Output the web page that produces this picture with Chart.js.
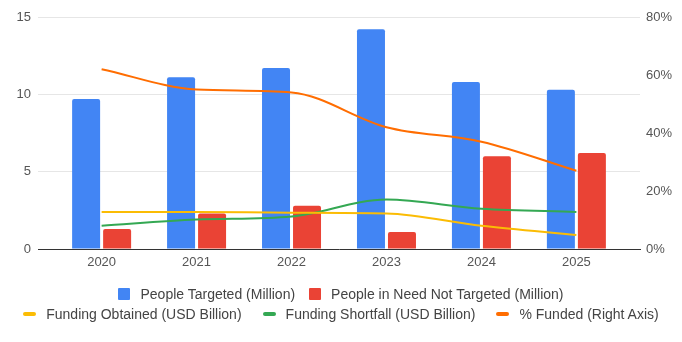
<!DOCTYPE html>
<html>
<head>
<meta charset="utf-8">
<script src="https://cdn.jsdelivr.net/npm/chart.js@4.4.1/dist/chart.umd.min.js"></script>
<style>
  html, body { margin:0; padding:0; background:#fff; }
  #wrap { position:relative; width:682px; height:342px; }
  #legend { position:absolute; left:0; top:284px; width:682px; font:14px 'Liberation Sans', Arial, sans-serif; color:#444; }
  .lg-row { display:flex; justify-content:center; height:20px; line-height:20px; }
  .lg-item { display:flex; align-items:center; white-space:nowrap; }
  .lg-mark { margin-right:10px; flex:none; }
</style>
</head>
<body>
<div id="wrap">
  <canvas id="chart" width="682" height="342"></canvas>
  <div id="legend"></div>
</div>
<script>
/* Humanitarian response: people targeted vs not targeted, funding and % funded */
const years = [2020, 2021, 2022, 2023, 2024, 2025];
const peopleTargeted    = [9.7, 11.1, 11.7, 14.2, 10.8, 10.3];   // million
const peopleNotTargeted = [1.3, 2.3, 2.8, 1.1, 6.0, 6.2];        // million
const fundingObtained   = [2.4, 2.4, 2.35, 2.3, 1.5, 0.9];       // USD billion
const fundingShortfall  = [1.5, 1.9, 2.1, 3.2, 2.6, 2.4];        // USD billion
const pctFunded         = [62, 55, 54, 42, 37, 27];              // %
const leftTicks  = [0, 5, 10, 15];
const rightTicks = [0, 20, 40, 60, 80];

const FONT = "'Liberation Sans', Arial, sans-serif";
const pts = (vals) => vals.map((v, i) => ({ x: years[i], y: v }));

const series = [
  { label:'People Targeted (Million)',            type:'bar',  color:'#4285f4', data:peopleTargeted,    axis:'y'  },
  { label:'People in Need Not Targeted (Million)', type:'bar',  color:'#ea4335', data:peopleNotTargeted, axis:'y'  },
  { label:'Funding Obtained (USD Billion)',       type:'line', color:'#fbbc04', data:fundingObtained,   axis:'y'  },
  { label:'Funding Shortfall (USD Billion)',      type:'line', color:'#34a853', data:fundingShortfall,  axis:'y'  },
  { label:'% Funded (Right Axis)',                type:'line', color:'#ff6d01', data:pctFunded,         axis:'y1' },
];

const datasets = series.map((s) => s.type === 'bar'
  ? { type:'bar', label:s.label, data:pts(s.data), yAxisID:s.axis, backgroundColor:s.color, order:2,
      categoryPercentage:0.653, barPercentage:0.903, borderRadius:{ topLeft:2, topRight:2 }, borderSkipped:'bottom' }
  : { type:'line', label:s.label, data:pts(s.data), yAxisID:s.axis, borderColor:s.color, backgroundColor:s.color, order:1,
      borderWidth:2, pointRadius:0, cubicInterpolationMode:'monotone', fill:false });

new Chart(document.getElementById('chart'), {
  type: 'bar',
  data: { datasets },
  options: {
    responsive:false, animation:false, devicePixelRatio:1,
    layout: { padding:{ top:17, left:0, right:0, bottom:0 } },
    plugins: { legend:{ display:false }, tooltip:{ enabled:false } },
    scales: {
      x: {
        type:'linear', offset:false, min:years[0] - 0.67, max:years[years.length - 1] + 0.67,
        afterBuildTicks:(axis) => { axis.ticks = years.map((v) => ({ value:v })); },
        afterFit:(axis) => { axis.height = 93; },
        grid:{ display:false, drawTicks:false },
        border:{ display:true, color:'#333', width:1 },
        ticks:{ padding:6, color:'#555', font:{ family:FONT, size:13 }, maxRotation:0, callback:(v) => String(v) },
      },
      y: {
        position:'left', min:0, max:15,
        afterBuildTicks:(axis) => { axis.ticks = leftTicks.map((v) => ({ value:v })); },
        afterFit:(axis) => { axis.width = 38; },
        grid:{ color:'#e6e6e6', drawTicks:false },
        border:{ display:false },
        ticks:{ padding:7, color:'#555', font:{ family:FONT, size:13 } },
      },
      y1: {
        position:'right', min:0, max:80,
        afterBuildTicks:(axis) => { axis.ticks = rightTicks.map((v) => ({ value:v })); },
        afterFit:(axis) => { axis.width = 42; },
        grid:{ display:false, drawTicks:false },
        border:{ display:false },
        ticks:{ padding:6, color:'#555', font:{ family:FONT, size:13 }, callback:(v) => v + '%' },
      },
    },
  },
});

// legend: bars on the first row, lines on the second
function legendItem(s) {
  const mark = s.type === 'bar'
    ? `<span class="lg-mark" style="width:12px;height:12px;background:${s.color};border-radius:1px"></span>`
    : `<span class="lg-mark" style="width:13px;height:4px;background:${s.color};border-radius:2px"></span>`;
  return `<span class="lg-item">${mark}${s.label}</span>`;
}
const rows = [series.filter((s) => s.type === 'bar'), series.filter((s) => s.type === 'line')];
document.getElementById('legend').innerHTML = rows.map((r, i) =>
  `<div class="lg-row" style="gap:${i ? 21 : 14}px">${r.map(legendItem).join('')}</div>`).join('');
</script>
</body>
</html>
